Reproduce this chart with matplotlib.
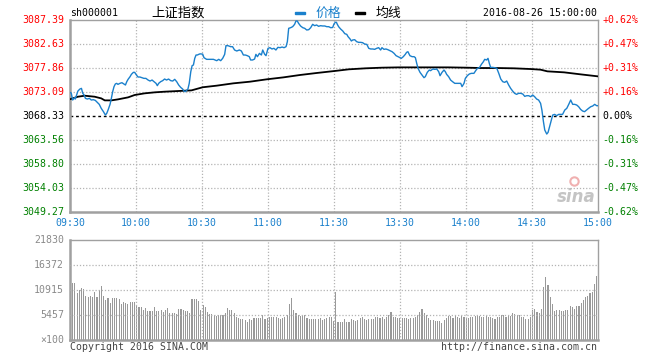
import numpy as np
import matplotlib
matplotlib.use('Agg')
import matplotlib.pyplot as plt
from matplotlib.transforms import blended_transform_factory as btf
from matplotlib.patches import Rectangle

# ---------------- data ----------------
prev_close = 3068.33
price_ticks = [3087.39, 3082.63, 3077.86, 3073.09, 3068.33, 3063.56, 3058.80, 3054.03, 3049.27]
pct_labels = ['+0.62%', '+0.47%', '+0.31%', '+0.16%', '0.00%', '-0.16%', '-0.31%', '-0.47%', '-0.62%']
time_ticks = [0, 30, 60, 90, 120, 150, 180, 210, 240]
time_labels = ['09:30', '10:00', '10:30', '11:00', '11:30', '13:30', '14:00', '14:30', '15:00']
vol_ticks = [21830, 16372, 10915, 5457]
vol_labels = ['21830', '16372', '10915', '5457']

price_t = [
    0.3, 0.6, 1.2, 2.1, 2.4, 3.0, 3.6, 4.5, 5.2, 5.8,
    6.4, 7.0, 7.9, 8.8, 9.7, 10.6, 11.5, 12.4, 13.3, 14.2,
    15.2, 16.1, 16.7, 17.3, 18.2, 18.8, 19.4, 20.0, 20.6, 21.2,
    21.8, 22.7, 23.6, 24.5, 25.2, 25.8, 26.4, 27.3, 27.9, 28.8,
    29.4, 30.0, 30.9, 31.8, 32.7, 33.6, 34.5, 35.5, 36.4, 37.3,
    38.2, 39.1, 39.7, 40.3, 41.2, 42.1, 43.0, 43.9, 44.8, 45.8,
    46.7, 47.6, 48.5, 49.4, 50.3, 51.2, 51.8, 52.4, 53.0, 53.6,
    54.2, 54.9, 55.5, 56.1, 56.7, 57.3, 57.9, 58.5, 59.1, 60.3,
    60.9, 62.1, 63.6, 65.2, 66.7, 67.6, 68.5, 69.4, 70.3, 70.9,
    71.8, 73.0, 73.9, 74.8, 75.8, 77.0, 77.9, 78.8, 79.7, 80.6,
    81.5, 82.1, 83.0, 83.9, 84.5, 85.2, 86.1, 87.0, 87.6, 88.5,
    89.1, 90.0, 90.9, 91.8, 92.7, 93.6, 94.5, 95.5, 96.4, 97.3,
    98.2, 98.8, 99.4, 100.3, 101.2, 102.1, 102.7, 103.3, 103.9, 104.8,
    105.8, 106.7, 107.6, 108.5, 109.4, 110.3, 111.2, 112.1, 113.0, 113.9,
    114.8, 115.8, 116.7, 117.6, 118.5, 119.4, 120.0, 120.6, 121.1, 121.5,
    122.1, 123.0, 124.0, 124.9, 125.8, 126.4, 127.3, 127.9, 128.5, 129.4,
    130.3, 131.2, 132.1, 133.0, 133.9, 134.9, 135.8, 136.7, 137.6, 138.5,
    139.4, 140.3, 141.2, 141.8, 142.7, 143.6, 144.5, 145.5, 146.4, 147.3,
    148.2, 149.1, 150.0, 150.6, 151.5, 152.4, 153.0, 153.6, 154.5, 155.5,
    156.4, 157.0, 157.6, 158.2, 159.1, 160.0, 160.9, 161.5, 162.4, 163.3,
    163.9, 164.9, 165.8, 166.7, 167.6, 168.2, 169.1, 170.0, 170.6, 171.2,
    172.1, 173.0, 173.9, 174.9, 175.8, 176.7, 177.6, 178.2, 179.1, 179.7,
    180.6, 181.5, 182.4, 183.6, 184.6, 185.2, 186.1, 187.0, 187.9, 188.5,
    189.4, 190.0, 190.6, 191.2, 192.1, 193.0, 194.0, 194.9, 195.8, 196.7,
    197.6, 198.5, 199.4, 200.3, 201.2, 202.1, 203.0, 203.9, 204.9, 205.8,
    206.7, 207.6, 208.5, 209.4, 210.3, 211.2, 212.1, 213.0, 213.9, 214.5,
    215.2, 215.8, 216.7, 217.3, 218.2, 218.8, 219.4, 220.3, 221.2, 222.1,
    223.0, 223.9, 224.9, 225.8, 226.7, 227.6, 228.5, 229.4, 230.3, 231.2,
    232.1, 233.0, 233.9, 234.8, 235.7, 236.7, 237.6, 238.5, 239.4, 240.0,
]
price_v = [
    3072.92, 3072.79, 3071.46, 3071.92, 3071.66, 3072.46, 3073.25, 3073.65, 3073.78, 3072.79,
    3072.46, 3071.79, 3071.66, 3071.79, 3071.46, 3071.53, 3071.39, 3071.00, 3070.60, 3069.80,
    3069.14, 3068.47, 3068.81, 3069.47, 3070.60, 3071.79, 3073.12, 3074.12, 3074.65, 3074.78,
    3074.58, 3074.78, 3074.91, 3074.65, 3074.45, 3075.11, 3075.58, 3076.11, 3076.57, 3076.97,
    3076.97, 3076.57, 3076.04, 3076.04, 3075.91, 3075.77, 3075.77, 3075.44, 3075.24, 3075.44,
    3075.11, 3074.78, 3074.32, 3074.78, 3075.11, 3075.31, 3075.64, 3075.44, 3075.64, 3075.31,
    3075.24, 3075.58, 3075.11, 3074.45, 3073.98, 3073.65, 3073.25, 3073.12, 3073.38, 3073.65,
    3074.78, 3077.10, 3078.30, 3078.43, 3079.76, 3080.42, 3080.42, 3080.55, 3080.65, 3080.60,
    3079.89, 3079.56, 3079.56, 3079.56, 3079.29, 3079.56, 3079.29, 3079.76, 3080.55, 3082.28,
    3082.28, 3082.08, 3082.08, 3081.42, 3081.22, 3081.42, 3081.22, 3080.42, 3080.42, 3080.29,
    3080.09, 3079.43, 3079.43, 3079.62, 3080.55, 3080.09, 3080.75, 3080.42, 3081.42, 3080.55,
    3080.29, 3081.75, 3081.88, 3081.62, 3081.75, 3081.42, 3081.95, 3081.88, 3082.01, 3081.88,
    3082.08, 3083.08, 3085.73, 3085.86, 3086.06, 3086.53, 3087.19, 3087.19, 3086.73, 3086.20,
    3085.86, 3085.73, 3085.40, 3085.46, 3085.86, 3086.53, 3086.26, 3086.40, 3086.13, 3086.26,
    3086.20, 3086.20, 3086.06, 3086.06, 3085.86, 3085.90, 3086.60, 3086.93, 3086.93, 3086.53,
    3086.06, 3085.60, 3085.20, 3084.67, 3084.53, 3084.07, 3083.61, 3083.21, 3083.41, 3083.47,
    3083.08, 3082.94, 3082.94, 3082.88, 3082.61, 3082.54, 3081.75, 3081.62, 3081.62, 3081.55,
    3081.75, 3081.88, 3081.42, 3081.88, 3081.55, 3081.62, 3081.48, 3081.28, 3081.08, 3080.75,
    3080.29, 3080.09, 3079.89, 3079.76, 3080.09, 3080.55, 3080.95, 3081.08, 3080.29, 3080.09,
    3080.09, 3079.89, 3078.76, 3077.77, 3076.97, 3076.44, 3075.91, 3076.11, 3076.97, 3077.43,
    3077.30, 3077.63, 3077.57, 3077.63, 3077.10, 3076.30, 3076.97, 3077.43, 3077.10, 3076.57,
    3076.11, 3075.44, 3075.11, 3074.78, 3074.78, 3074.78, 3074.78, 3074.12, 3074.78, 3075.77,
    3076.30, 3076.64, 3076.77, 3076.77, 3077.43, 3077.77, 3077.90, 3078.56, 3079.09, 3079.56,
    3079.43, 3079.76, 3078.76, 3077.96, 3077.96, 3077.90, 3077.77, 3076.77, 3075.64, 3075.11,
    3074.98, 3075.24, 3074.45, 3073.78, 3073.25, 3072.79, 3072.59, 3072.79, 3072.79, 3072.66,
    3072.19, 3072.32, 3072.32, 3072.12, 3072.46, 3072.12, 3071.66, 3071.46, 3070.80, 3069.47,
    3067.15, 3065.49, 3064.69, 3065.02, 3066.48, 3067.48, 3068.47, 3068.60, 3068.34, 3068.60,
    3068.60, 3068.60, 3069.47, 3069.80, 3070.60, 3071.46, 3070.60, 3070.60, 3070.47, 3070.13,
    3069.60, 3069.27, 3069.14, 3069.47, 3069.80, 3070.13, 3070.27, 3070.60, 3070.33, 3070.33,
]

avg_t = [0.3, 3.6, 6.7, 11.2, 14.2, 15.8, 18.8, 21.8, 26.4, 29.4, 33.9, 38.5, 43.0, 49.1,
         55.2, 60.3, 66.7, 74.2, 81.8, 89.4, 97.0, 104.5, 112.1, 120.3, 126.7, 134.3,
         141.8, 149.4, 157.0, 164.6, 172.1, 180.3, 186.7, 194.3, 201.8, 209.4, 213.9,
         217.0, 224.6, 232.1, 240.0]
avg_v = [3071.66, 3072.12, 3072.32, 3072.12, 3071.79, 3071.39, 3071.39, 3071.59, 3071.99,
         3072.46, 3072.79, 3072.99, 3073.12, 3073.25, 3073.38, 3074.00, 3074.32, 3074.78,
         3075.11, 3075.58, 3075.97, 3076.44, 3076.84, 3077.24, 3077.57, 3077.77, 3077.90,
         3077.96, 3077.96, 3077.96, 3077.96, 3077.90, 3077.83, 3077.83, 3077.77, 3077.63,
         3077.50, 3077.17, 3076.97, 3076.57, 3076.17]

volume = [
    12520, 12370, 10330, 10910, 11280, 11060, 9600, 9460, 9600, 9460,
    10550, 9460, 10910, 11790, 9600, 8730, 9100, 8150, 9100, 9100,
    9100, 8880, 7860, 8370, 8000, 7860, 8370, 8370, 8220, 7420,
    7130, 7280, 6550, 6910, 6400, 6260, 6260, 7280, 6330, 6330,
    6480, 6180, 6550, 6910, 5820, 5820, 5820, 5680, 6770, 6770,
    6620, 6400, 6400, 5970, 9020, 9020, 9020, 8510, 6550, 7640,
    7130, 6180, 5680, 5680, 5460, 5240, 5380, 5380, 5380, 5970,
    6910, 6550, 6550, 5970, 5090, 4730, 4580, 4580, 4360, 4000,
    4510, 4360, 4730, 4730, 4730, 4730, 5460, 4510, 4730, 5090,
    5090, 5090, 4950, 4730, 4580, 4730, 5090, 5460, 7860, 9100,
    6550, 5820, 5460, 5240, 5380, 5380, 4730, 4660, 4580, 4660,
    4660, 4580, 4730, 4360, 4510, 4730, 4950, 4950, 4220, 10550,
    3860, 3860, 4000, 4580, 4000, 4000, 4580, 4360, 4220, 4360,
    4730, 5090, 4580, 4360, 4580, 4510, 4580, 4950, 4950, 4730,
    4950, 4580, 5090, 5460, 6180, 4950, 4950, 4730, 4870, 4870,
    4730, 4870, 4580, 4730, 4870, 5090, 5460, 6180, 6770, 5970,
    5460, 4730, 4360, 4360, 4150, 4150, 4150, 3780, 4360, 4730,
    5310, 5310, 4870, 5310, 4950, 4730, 5240, 4950, 4730, 4730,
    4950, 4950, 5310, 5240, 5310, 4950, 4950, 5310, 4950, 5090,
    4730, 4580, 4950, 5090, 5460, 5460, 5090, 5310, 5240, 5970,
    5680, 5460, 5460, 4950, 4950, 4660, 4660, 4950, 6550, 6770,
    6180, 5970, 6770, 11500, 13680, 12010, 9460, 7860, 6400, 6550,
    6550, 6330, 6400, 6550, 6550, 7420, 7130, 6840, 7420, 7490,
    8000, 8730, 9460, 9680, 10190, 10550, 12220, 14040,
]

# ---------------- style ----------------
MONO = 'DejaVu Sans Mono'
CJK = ['Noto Sans CJK SC', 'DejaVu Sans']
FS = 7.1
RED = '#ff0000'
GREEN = '#008000'
BLUE = '#1a80cc'
GRID = '#b4b4b4'
FRAME = '#a0a0a0'
W, H = 660, 360

fig = plt.figure(figsize=(W / 100, H / 100), dpi=100)
fig.patch.set_facecolor('white')


def fx(px):
    return px / W


def fy(py):
    return 1 - py / H


def style_frame(ax):
    for side in ['top', 'right']:
        ax.spines[side].set_color(FRAME)
        ax.spines[side].set_linewidth(1.0)
    for side in ['left', 'bottom']:
        ax.spines[side].set_color(FRAME)
        ax.spines[side].set_linewidth(1.8)
    ax.set_xticks([])
    ax.set_yticks([])


# ---------------- price panel ----------------
ax = fig.add_axes([fx(70), fy(211.5), fx(528), 191.5 / H])
style_frame(ax)
ax.set_xlim(0, 240)
ax.set_ylim(price_ticks[-1], price_ticks[0])

for v in price_ticks[1:-1]:
    if v == prev_close:
        continue
    ax.axhline(v, color=GRID, lw=0.9, ls=(0, (1, 1.5)), zorder=1)
for t in time_ticks[1:-1]:
    ax.axvline(t, color=GRID, lw=0.9, ls=(0, (1, 1.5)), zorder=1)
ax.axhline(prev_close, color='black', lw=1.0, ls=(0, (2, 2)), zorder=2)

ax.plot(price_t, price_v, color=BLUE, lw=1.0, zorder=4)
ax.plot(avg_t, avg_v, color='black', lw=1.3, zorder=3)

tr_left = btf(ax.transAxes, ax.transData)
for i, (v, lab) in enumerate(zip(price_ticks, pct_labels)):
    col = RED if v > prev_close else ('black' if v == prev_close else GREEN)
    ax.text(-0.011, v, f'{v:.2f}', transform=tr_left, ha='right', va='center',
            color=col, fontsize=FS, family=MONO)
    ax.text(1.009, v, lab, transform=tr_left, ha='left', va='center',
            color=col, fontsize=FS, family=MONO)

tr_bot = btf(ax.transData, ax.transAxes)
for t, lab in zip(time_ticks, time_labels):
    ax.text(t, -0.06, lab, transform=tr_bot, ha='center', va='center',
            color=BLUE, fontsize=FS, family=MONO)

ax.text(0.995, 0.03, 'sina', transform=ax.transAxes, ha='right', va='bottom',
        color='#c4c4c4', fontsize=12, style='italic', weight='bold', zorder=0)
ax.plot([0.955], [0.16], 'o', transform=ax.transAxes, ms=6, mfc='none',
        mec='#f0b0b0', mew=1.5, zorder=0)

# ---------------- header ----------------
fig.text(fx(70), fy(13), 'sh000001', ha='left', va='center', fontsize=FS,
         family=MONO, color='black')
fig.text(fx(151), fy(13), '上证指数', ha='left', va='center', fontsize=9.6,
         family=CJK, color='black')
fig.patches.append(Rectangle((fx(295), fy(14.3)), fx(10), 2.6 / H,
                             transform=fig.transFigure, color=BLUE))
fig.text(fx(315), fy(13), '价格', ha='left', va='center', fontsize=9.3,
         family=CJK, color=BLUE)
fig.patches.append(Rectangle((fx(355), fy(14.3)), fx(10), 2.6 / H,
                             transform=fig.transFigure, color='black'))
fig.text(fx(376), fy(13), '均线', ha='left', va='center', fontsize=9.3,
         family=CJK, color='black')
fig.text(fx(597), fy(13), '2016-08-26 15:00:00', ha='right', va='center',
         fontsize=FS, family=MONO, color='black')

# ---------------- volume panel ----------------
vx = fig.add_axes([fx(70), fy(340), fx(528), 100 / H])
style_frame(vx)
vx.set_xlim(0, 240)
vx.set_ylim(0, vol_ticks[0])
bar_x = np.linspace(1.2, 239.4, len(volume))
vx.bar(bar_x, volume, width=0.5, color='#999999', zorder=2, linewidth=0,
       antialiased=False)
for v in vol_ticks[1:]:
    vx.axhline(v, color=GRID, lw=0.9, ls=(0, (1, 1.5)), zorder=3)
for t in time_ticks[1:-1]:
    vx.axvline(t, color=GRID, lw=0.9, ls=(0, (1, 1.5)), zorder=3)

tr_vl = btf(vx.transAxes, vx.transData)
for v, lab in zip(vol_ticks, vol_labels):
    vx.text(-0.011, v, lab, transform=tr_vl, ha='right', va='center',
            color='#8a8a8a', fontsize=FS, family=MONO)
vx.text(-0.011, 0, '×100', transform=tr_vl, ha='right', va='center',
        color='#8a8a8a', fontsize=FS, family=MONO)

fig.text(fx(70), fy(347), 'Copyright 2016 SINA.COM', ha='left', va='center',
         fontsize=FS, family=MONO, color='#444444')
fig.text(fx(597), fy(347), 'http://finance.sina.com.cn', ha='right', va='center',
         fontsize=FS, family=MONO, color='#444444')

fig.savefig('out.png', dpi=100)
